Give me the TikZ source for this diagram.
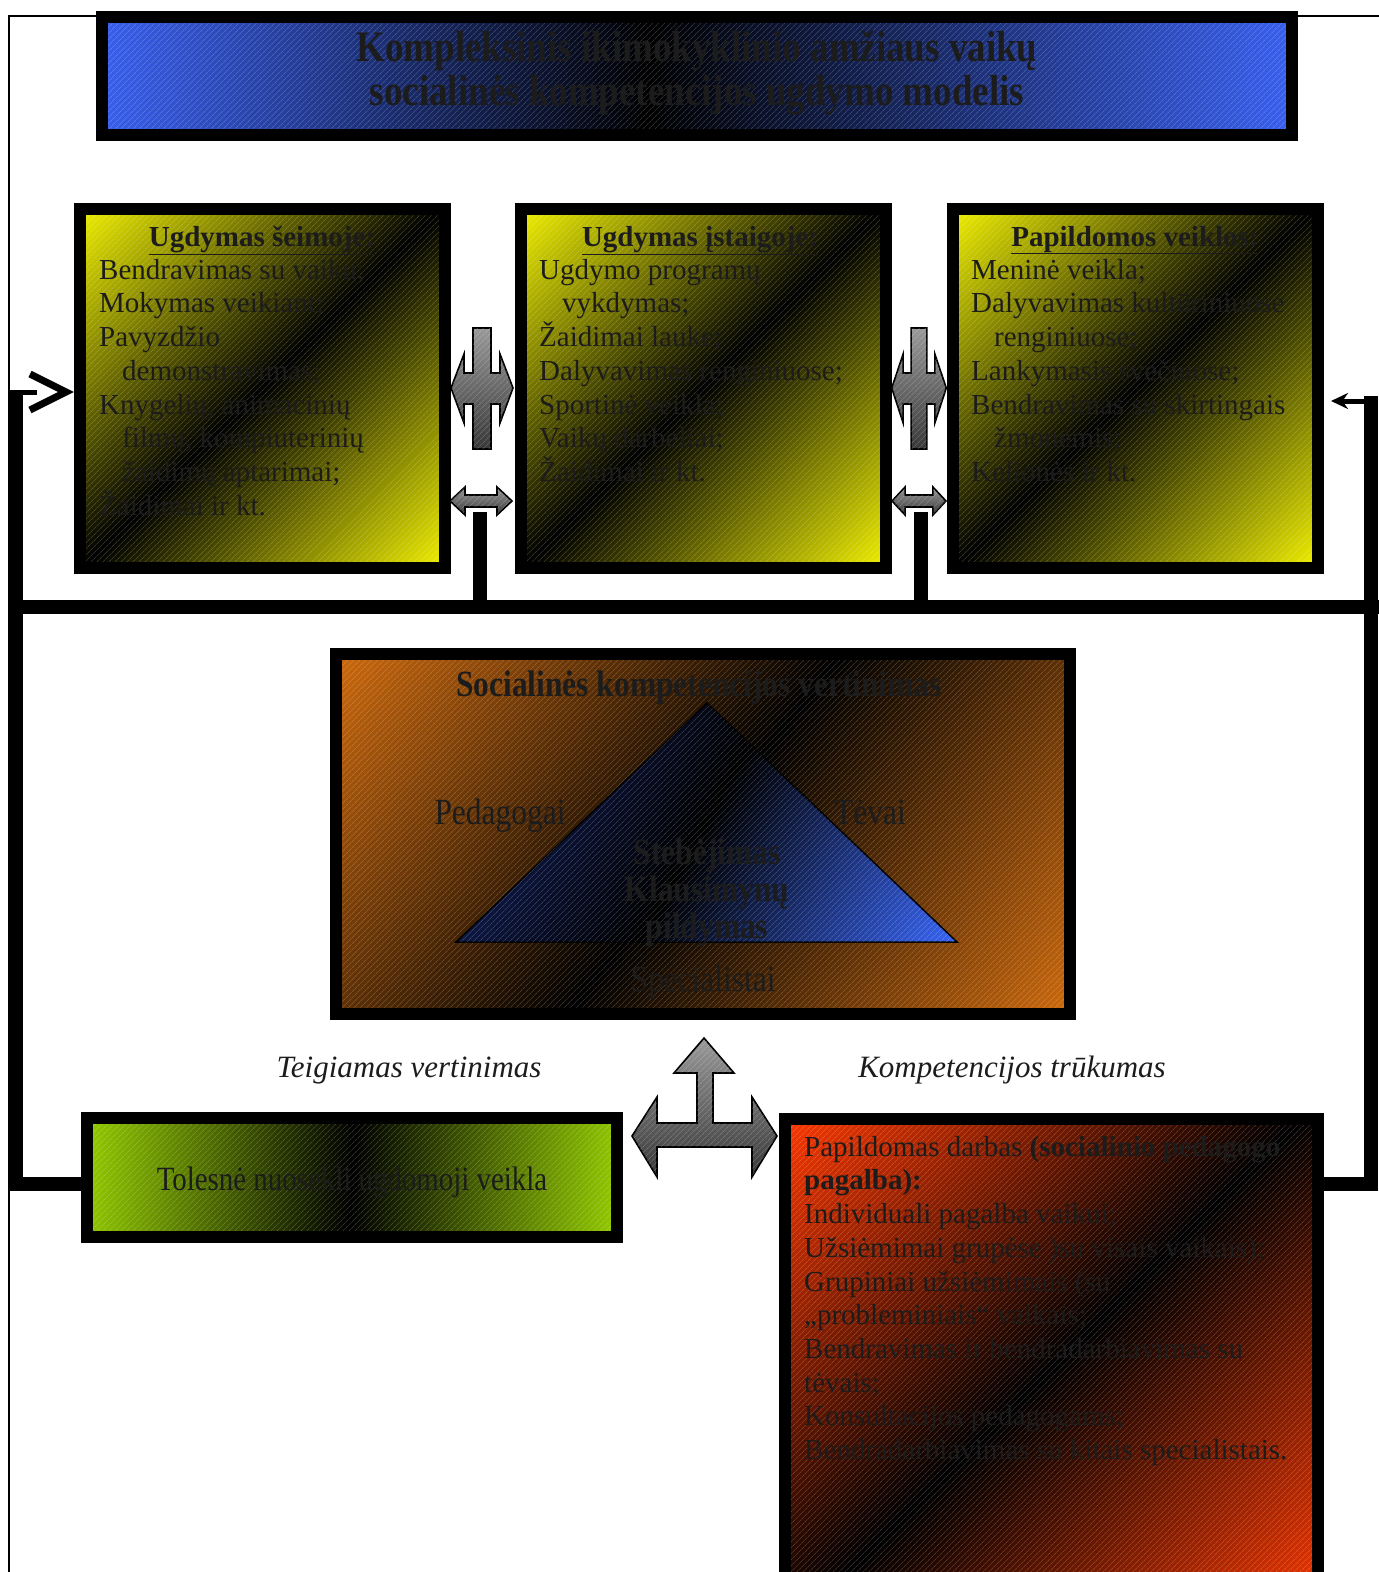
\documentclass[tikz,border=0pt]{standalone}
\usepackage{fontspec}
\setmainfont{Liberation Serif}
\newfontfamily\condfont[FakeStretch=0.85]{Liberation Serif}
\usetikzlibrary{arrows.meta,patterns.meta}
\definecolor{ylw}{RGB}{240,240,0}
\definecolor{tblue}{RGB}{58,98,245}
\definecolor{org}{RGB}{205,105,12}
\definecolor{grn}{RGB}{145,200,0}
\definecolor{rd}{RGB}{250,55,0}
\definecolor{tdark}{RGB}{22,40,115}
\definecolor{tbright}{RGB}{55,100,245}
\definecolor{txt}{RGB}{28,28,28}
\pgfdeclareverticalshading{shY}{100bp}{color(0bp)=(ylw); color(14.6bp)=(ylw); color(50bp)=(black); color(85.4bp)=(ylw); color(100bp)=(ylw)}
\pgfdeclareverticalshading{shB}{100bp}{color(0bp)=(tblue); color(24bp)=(tblue); color(52bp)=(black); color(76bp)=(tblue); color(100bp)=(tblue)}
\pgfdeclareverticalshading{shO}{100bp}{color(0bp)=(org); color(15bp)=(org); color(50bp)=(black); color(85bp)=(org); color(100bp)=(org)}
\pgfdeclareverticalshading{shG}{100bp}{color(0bp)=(grn); color(24bp)=(grn); color(50bp)=(black); color(76bp)=(grn); color(100bp)=(grn)}
\pgfdeclareverticalshading{shR}{100bp}{color(0bp)=(rd); color(14.6bp)=(rd); color(50bp)=(black); color(85.4bp)=(rd); color(100bp)=(rd)}
\pgfdeclareverticalshading{shT}{100bp}{color(0bp)=(tbright); color(16bp)=(tbright); color(50bp)=(black); color(84bp)=(tdark); color(100bp)=(tdark)}
\newcommand\mylsl{\lineskiplimit-100pt\relax}
\tikzset{
  hatch/.style={postaction={pattern={Lines[angle=45,distance=4pt,line width=0.6pt]},pattern color=white,fill opacity=0.28}},
  gbox/.style n args={2}{shade, shading=#1, shading angle=#2, hatch, inner sep=0pt, outer sep=0pt},
  frame/.style={draw=black, line width=12pt},
  bus/.style={draw=black, line width=14pt, line join=miter},
  thinframe/.style={draw=black, line width=1.5pt},
  grayarrow/.style={draw=black, line width=1.6pt, line join=miter, top color=black!40, bottom color=black!78, hatch},
  body/.style={anchor=north west, align=left, inner sep=0pt, text=txt, font=\fontsize{29}{33.7}\selectfont\mylsl},
  hdr/.style={anchor=base, inner sep=0pt, text=txt, font=\bfseries\fontsize{29}{33.7}\selectfont},
  cond/.style={anchor=base, inner sep=0pt, text=txt, font=\condfont\fontsize{37}{37}\selectfont},
  condb/.style={anchor=base, inner sep=0pt, text=txt, font=\condfont\bfseries\fontsize{37}{37}\selectfont},
  itl/.style={anchor=base, inner sep=0pt, text=txt, font=\itshape\fontsize{31}{31}\selectfont},
  crossarrow/.pic={\path[grayarrow] (-31,0) -- (-18,-34) -- (-18,-15) -- (-9,-15) -- (-9,-60) -- (9,-60) -- (9,-15) -- (18,-15) -- (18,-34) -- (31,0) -- (18,35) -- (18,16) -- (9,16) -- (9,61) -- (-9,61) -- (-9,16) -- (-18,16) -- (-18,35) -- cycle;},
  dblarrow/.pic={\path[grayarrow] (-31,0) -- (-16,-14) -- (-16,-6) -- (16,-6) -- (16,-14) -- (31,0) -- (16,14) -- (16,6) -- (-16,6) -- (-16,14) -- cycle;}
}
\begin{document}
\begin{tikzpicture}[x=1pt,y=-1pt]
\useasboundingbox (0,0) rectangle (1379,1572);

% thin outer frame line
\coordinate (fb) at (9,1590);
\coordinate (fc) at (9,16);
\coordinate (fr) at (1390,16);
\draw[thinframe] (fb) -- (fc) -- (fr);

% box nodes (fills)
\node[gbox={shB}{89.5}, minimum width=1190pt, minimum height=118pt] (title) at (697,76) {};
\node[gbox={shY}{45}, minimum width=365pt, minimum height=359pt] (b1) at (262,388.5) {};
\node[gbox={shY}{45}, minimum width=365pt, minimum height=359pt] (b2) at (703,388.5) {};
\node[gbox={shY}{45}, minimum width=365pt, minimum height=359pt] (b3) at (1135,388.5) {};
\node[gbox={shO}{53}, minimum width=734pt, minimum height=360pt] (ev) at (703,834) {};
\node[gbox={shG}{87}, minimum width=530pt, minimum height=119pt] (g) at (352,1177.5) {};
\node[gbox={shR}{45}, minimum width=533pt, minimum height=501pt] (r) at (1051.5,1369.5) {};

% connectors
\coordinate (Lbot) at (16,1184);
\coordinate (Ltop) at (16,390);
\coordinate (Rbot) at (1371,1184);
\coordinate (Rtop) at (1371,396);
\coordinate (busL) at (9,607);
\coordinate (busR) at (1390,607);
\coordinate (s1t) at (480,512);
\coordinate (s2t) at (921,512);
\draw[bus] (g.west |- Lbot) -- (Lbot) -- (Ltop);
\draw[bus] (r.east |- Rbot) -- (Rbot) -- (Rtop);
\draw[bus] (busL) -- (busR);
\draw[bus] (s1t) -- (s1t |- busL);
\draw[bus] (s2t) -- (s2t |- busL);
\coordinate (stubE) at (37,392);
\draw[line width=5pt] (Ltop |- stubE) ++(-7,0) -- (stubE);
\coordinate (chevA) at (30,374);
\coordinate (chevT) at (66,392);
\coordinate (chevB) at (30,410);
\draw[line width=7pt, line join=miter] (chevA) -- (chevT) -- (chevB);
\coordinate (rarrT) at (1331,401);
\draw[line width=5pt, -{Stealth[length=17pt,width=16pt]}] (Rtop |- rarrT) ++(6,0) -- (rarrT);

% frames
\draw[frame] (title.north west) rectangle (title.south east);
\draw[frame] (b1.north west) rectangle (b1.south east);
\draw[frame] (b2.north west) rectangle (b2.south east);
\draw[frame] (b3.north west) rectangle (b3.south east);
\draw[frame] (ev.north west) rectangle (ev.south east);
\draw[frame] (g.north west) rectangle (g.south east);
\draw[frame] (r.north west) rectangle (r.south east);

% arrows between boxes
\pic (ca1) at (482,388) {crossarrow};
\pic[xscale=0.88] (ca2) at (919,388) {crossarrow};
\pic (da1) at (481,501) {dblarrow};
\pic[xscale=0.87] (da2) at (919,501) {dblarrow};

% three-way arrow
\path[grayarrow] (704,1038) -- (734,1073) -- (713,1073) -- (713,1123) -- (752,1123) -- (752,1097) -- (777,1136) -- (752,1177) -- (752,1147) -- (657,1147) -- (657,1177) -- (632,1136) -- (657,1097) -- (657,1123) -- (697,1123) -- (697,1073) -- (674,1073) -- cycle;

% triangle
\path[draw=black, line width=1.5pt, line join=miter, shade, shading=shT, shading angle=61, hatch] (707,703) -- (957,942) -- (456,942) -- cycle;

% title text
\node[anchor=north, align=center, inner sep=0pt, text=txt, font=\condfont\bfseries\fontsize{43.5}{44}\selectfont\mylsl] (tt) at (697,21) {\rule{0pt}{40pt}Kompleksinis ikimokyklinio amžiaus vaikų\\socialinės kompetencijos ugdymo modelis};

% top boxes text
\node[hdr] (h1) at (262,246) {\underline{Ugdymas šeimoje:}};
\node[hdr] (h2) at (700,246) {\underline{Ugdymas įstaigoje:}};
\node[hdr] (h3) at (1135,246) {\underline{Papildomos veiklos:}};
\node[body] (t1) at (99,251) {\rule{0pt}{28pt}Bendravimas su vaiku;\\Mokymas veikiant;\\Pavyzdžio\\\hspace*{23pt}demonstravimas;\\Knygelių, animacinių\\\hspace*{23pt}filmų, kompiuterinių\\\hspace*{23pt}žaidimų aptarimai;\\Žaidimai ir kt.};
\node[body] (t2) at (539,251) {\rule{0pt}{28pt}Ugdymo programų\\\hspace*{23pt}vykdymas;\\Žaidimai lauke;\\Dalyvavimas renginiuose;\\Sportinė veikla;\\Vaikų darbeliai;\\Žaidimai ir kt.};
\node[body] (t3) at (971,251) {\rule{0pt}{28pt}Meninė veikla;\\Dalyvavimas kultūriniuose\\\hspace*{23pt}renginiuose;\\Lankymasis svečiuose;\\Bendravimas su skirtingais\\\hspace*{23pt}žmonėmis;\\Kelionės ir kt.};

% evaluation box text
\node[condb] (evt) at (699,696) {Socialinės kompetencijos vertinimas};
\node[cond] (ped) at (500,824) {Pedagogai};
\node[cond] (tev) at (870,824) {Tėvai};
\node[condb] (st1) at (707,864) {Stebėjimas};
\node[condb] (st2) at (707,901) {Klausimynų};
\node[condb] (st3) at (707,938) {pildymas};
\node[cond] (spec) at (703,991) {Specialistai};

% labels
\node[itl] (lpos) at (409,1077) {Teigiamas vertinimas};
\node[itl] (lneg) at (1012,1077) {Kompetencijos trūkumas};

% green and red text
\node[anchor=base, inner sep=0pt, text=txt, font=\condfont\fontsize{34}{34}\selectfont] (gt) at (352,1190) {Tolesnė nuosekli ugdomoji veikla};
\node[body] (rt) at (804,1128) {\rule{0pt}{28pt}Papildomas darbas \textbf{(socialinio pedagogo}\\\textbf{pagalba):}\\Individuali pagalba vaikui;\\Užsiėmimai grupėse )su visais vaikais);\\Grupiniai užsiėmimais (su\\„probleminiais“ vaikais;\\Bendravimas ir bendradarbiavimas su\\tėvais;\\Konsultacijos pedagogams;\\Bendradarbiavimas su kitais specialistais.};
\end{tikzpicture}
\end{document}
